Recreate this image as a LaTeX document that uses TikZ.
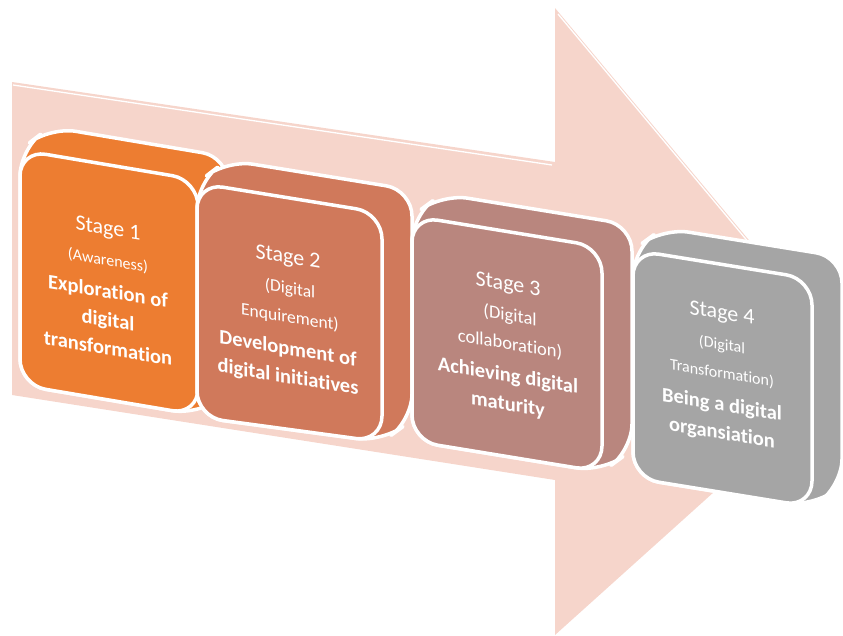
\documentclass[tikz,border=0pt]{standalone}
\usepackage{fontspec}
\setmainfont{Carlito}[Ligatures=NoCommon]
\definecolor{arrowpink}{HTML}{F6D5CB}
\definecolor{stageone}{HTML}{ED7D31}
\definecolor{stagetwo}{HTML}{D0795B}
\definecolor{stagethree}{HTML}{B9867E}
\definecolor{stagefour}{HTML}{A5A5A5}
\newcommand{\stagefnt}{\fontsize{22}{28}\selectfont}
\newcommand{\notefnt}[1][16]{\fontsize{#1}{28}\selectfont}
\newcommand{\aimfnt}{\fontsize{20.5}{28}\selectfont\bfseries}
\tikzset{
stagebox/.style={draw=white,line width=3.5pt,rounded corners=26pt,line join=round},
stagetext/.style={text=white,align=center,inner sep=0pt,yslant=-0.165,
    font=\fontsize{20}{28.5}\selectfont},
shine/.style={draw=white,line width=1.3pt},
}

\begin{document}
\begin{tikzpicture}[x=1pt,y=-1pt]
    \clip (0,0) rectangle (843,635);

    % big arrow behind the stages
    \fill[arrowpink] (12,82) -- (555,162) -- (555,8) -- (854,366)
        -- (555,635) -- (555,480) -- (12,395) -- cycle;
    \path[shine] (13,85) -- (552,165);
    \path[shine] (558,14) -- (790,292);

    % stage 1
    \filldraw[stagebox,fill=stageone] (20,150) -- (50,127) -- (228,157)
        -- (228,393) -- (198,415) -- (20,385) -- cycle;
    \filldraw[stagebox,fill=stageone] (20,150) -- (198,180) -- (198,415)
        -- (20,385) -- cycle;
    \node[stagetext] (s1) at (108,288) {{\stagefnt Stage 1}\\[2pt]
        {\notefnt (Awareness)}\\[4pt]
        {\aimfnt Exploration of}\\ {\aimfnt digital}\\ {\aimfnt transformation}};

    % stage 2
    \filldraw[stagebox,fill=stagetwo] (197,183) -- (227,160) -- (412,190)
        -- (412,420) -- (382,442) -- (197,417) -- cycle;
    \filldraw[stagebox,fill=stagetwo] (197,183) -- (382,213) -- (382,442)
        -- (197,417) -- cycle;
    \node[stagetext] (s2) at (288,318) {{\stagefnt Stage 2}\\[2pt]
        {\notefnt[17.5] (Digital}\\ {\notefnt[17.5] Enquirement)}\\[4pt]
        {\aimfnt Development of}\\ {\aimfnt digital initiatives}};

    % stage 3
    \filldraw[stagebox,fill=stagethree] (412,216) -- (442,194) -- (632,225)
        -- (632,450) -- (602,472) -- (412,441) -- cycle;
    \filldraw[stagebox,fill=stagethree] (412,216) -- (602,247) -- (602,472)
        -- (412,441) -- cycle;
    \node[stagetext] (s3) at (508,345) {{\stagefnt Stage 3}\\[2pt]
        {\notefnt[18.5] (Digital}\\ {\notefnt[18.5] collaboration)}\\[4pt]
        {\aimfnt Achieving digital}\\ {\aimfnt maturity}};

    % stage 4
    \filldraw[stagebox,fill=stagefour] (633,250) -- (663,228) -- (842,257)
        -- (842,485) -- (812,507) -- (633,478) -- cycle;
    \filldraw[stagebox,fill=stagefour] (633,250) -- (812,279) -- (812,507)
        -- (633,478) -- cycle;
    \node[stagetext] (s4) at (722,374) {{\stagefnt Stage 4}\\[2pt]
        {\notefnt (Digital}\\ {\notefnt Transformation)}\\[4pt]
        {\aimfnt Being a digital}\\ {\aimfnt organsiation}};
\end{tikzpicture}
\end{document}
